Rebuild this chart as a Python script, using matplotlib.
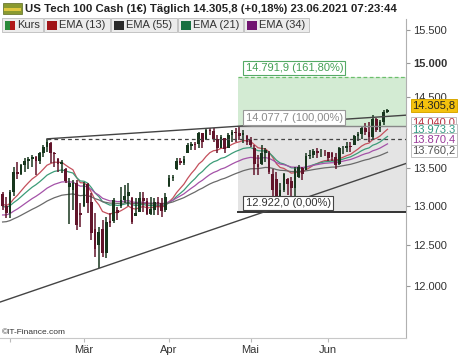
import numpy as np
import pandas as pd
import matplotlib
matplotlib.use("Agg")
import matplotlib.pyplot as plt
from matplotlib.patches import Rectangle

plt.rcParams['font.family'] = ['Liberation Sans', 'DejaVu Sans']

# ---------------- data ----------------
dates = pd.bdate_range('2021-01-28', '2021-06-23')
opens = [13150, 13000, 12900, 13180, 13450, 13420, 13540, 13600, 13620, 13650,
         13600, 13700, 13790, 13840, 13700, 13620, 13560, 13480, 13250, 13200,
         13300, 12900, 13000, 13290, 13050, 12700, 12500, 12700, 12400, 12800,
         12800, 12950, 12990, 13080, 13130, 13100, 12870, 12920, 13100, 13060,
         12890, 12950, 13050, 13030, 12950, 13260, 13360, 13480, 13600, 13570,
         13700, 13800, 13830, 13830, 13980, 13900, 14030, 14010, 13900, 13780,
         13910, 13770, 13950, 14000, 13980, 13950, 13940, 13880, 13780, 13550,
         13560, 13700, 13700, 13420, 13350, 13050, 13200, 13350, 13330, 13230,
         13380, 13500, 13470, 13670, 13680, 13730, 13700, 13710, 13720, 13700,
         13650, 13560, 13770, 13780, 13800, 13820, 13940, 13970, 14050, 14000,
         13920, 14180, 14050, 14130, 14280]
highs = [13180, 13110, 13200, 13510, 13580, 13560, 13630, 13650, 13680, 13660,
         13720, 13810, 13900, 13860, 13720, 13630, 13610, 13500, 13360, 13340,
         13340, 13040, 13310, 13300, 13160, 12900, 12720, 12815, 12850, 12900,
         13100, 12985, 13250, 13270, 13300, 13110, 13100, 13180, 13180, 13100,
         13110, 13100, 13110, 13100, 13170, 13400, 13410, 13630, 13630, 13660,
         13840, 13850, 13850, 14000, 13980, 14050, 14050, 14050, 13950, 13950,
         13910, 13980, 14020, 14050, 14078, 14030, 13950, 13920, 13810, 13680,
         13810, 13770, 13730, 13480, 13440, 13300, 13430, 13370, 13380, 13510,
         13540, 13520, 13700, 13740, 13760, 13770, 13760, 13740, 13720, 13720,
         13700, 13790, 13800, 13860, 13860, 13950, 13990, 14070, 14120, 14130,
         14230, 14200, 14170, 14310, 14320]
lows = [12950, 12840, 12840, 13130, 13350, 13400, 13450, 13490, 13520, 13400,
        13550, 13650, 13720, 13570, 13520, 13440, 13430, 13300, 12760, 12950,
        12690, 12725, 12980, 12910, 12560, 12350, 12210, 12350, 12340, 12720,
        12780, 12815, 12970, 13040, 12990, 12770, 12870, 12920, 12920, 12880,
        12880, 12880, 12880, 12860, 12920, 13250, 13320, 13470, 13540, 13540,
        13700, 13740, 13740, 13770, 13770, 13890, 13950, 13860, 13700, 13770,
        13700, 13770, 13860, 13860, 13880, 13840, 13810, 13790, 13400, 13400,
        13540, 13580, 13420, 13050, 13000, 12922, 13180, 13140, 13000, 13050,
        13360, 13340, 13470, 13620, 13640, 13630, 13650, 13660, 13590, 13600,
        13480, 13540, 13690, 13720, 13720, 13810, 13870, 13900, 13950, 13860,
        13900, 13990, 14000, 14100, 14270]
closes = [13000, 12900, 13180, 13450, 13420, 13540, 13600, 13620, 13650, 13600,
          13700, 13790, 13860, 13700, 13690, 13560, 13580, 13320, 13300, 13300,
          12750, 12880, 13290, 13030, 12650, 12450, 12660, 12400, 12790, 12780,
          13070, 12900, 13080, 13130, 13180, 12790, 12900, 13100, 13060, 12890,
          12960, 13050, 13030, 12930, 13120, 13360, 13380, 13600, 13570, 13620,
          13820, 13830, 13820, 13980, 13850, 14030, 14010, 13900, 13780, 13930,
          13760, 13950, 14000, 13980, 13940, 13980, 13850, 13820, 13550, 13520,
          13700, 13740, 13440, 13200, 13050, 13200, 13420, 13280, 13230, 13480,
          13520, 13420, 13670, 13680, 13730, 13700, 13710, 13700, 13630, 13650,
          13540, 13770, 13780, 13800, 13790, 13940, 13970, 14050, 14000, 13920,
          14180, 14020, 14130, 14280, 14305.8]

ema_periods = [13, 21, 34, 55]
ema_seeds = [13020, 12990, 12880, 12790]
ema_last_labels = ["14.040,0", "13.973,3", "13.870,4", "13.760,2"]
ema_last_values = [14040.0, 13973.3, 13870.4, 13760.2]

feb_high = 13900.0
fib_low, fib_100, fib_1618 = 12922.0, 14077.7, 14791.9
last_price = 14305.8
month_names = {2: '', 3: 'Mär', 4: 'Apr', 5: 'Mai', 6: 'Jun'}

# ---------------- figure ----------------
W, H = 474, 355
fig = plt.figure(figsize=(W / 100, H / 100), dpi=100)
fig.patch.set_facecolor('white')

def fx(x):
    return x / W

def fy(y):
    return 1 - y / H

ax_top, ax_bot, ax_right = 19, 338, 406
ax = fig.add_axes([0, fy(ax_bot), fx(ax_right), (ax_bot - ax_top) / H])
ax.set_facecolor('white')
ax.set_yscale('log')

def px_to_price(y):
    return 15500 * np.exp(-(y - 30) / 999.0)

ax.set_ylim(px_to_price(ax_bot), px_to_price(ax_top))
n = len(closes)
idx = np.arange(n)
xl, xr = -0.70, 109.0
ax.set_xlim(xl, xr)

# EMAs
ema_colors = ['#c4505c', '#3c9c78', '#a452a8', '#6a6a6a']
for per, seed, col in zip(ema_periods, ema_seeds, ema_colors):
    a = 2.0 / (per + 1)
    e = [seed]
    for c in closes[1:]:
        e.append(e[-1] + a * (c - e[-1]))
    ax.plot(idx, e, color=col, lw=0.9, zorder=2)

# fib zones
fib_start = 63.6
ax.fill_between([fib_start, xr], fib_low, fib_100, color='#e4e4e4', zorder=0.5, lw=0)
ax.fill_between([fib_start, xr], fib_100, fib_1618, color='#d3ebd3', zorder=0.5, lw=0)
ax.plot([fib_start, xr], [fib_1618] * 2, color='#6cbf6c', lw=0.9, ls=(0, (3, 2)), zorder=4)
ax.plot([fib_start, xr], [fib_100] * 2, color='#888888', lw=1.0, zorder=4)
ax.plot([fib_start, xr], [fib_low] * 2, color='#333333', lw=1.4, zorder=4)

# candles
up_col, dn_col = '#17361d', '#62142a'
o = np.array(opens); c = np.array(closes); h = np.array(highs); l = np.array(lows)
cols = [up_col if cc >= oo else dn_col for oo, cc in zip(o, c)]
ax.vlines(idx, l, h, colors=cols, lw=1.1, zorder=3)
ax.bar(idx, np.maximum(np.abs(c - o), 10), bottom=np.minimum(o, c), width=0.72,
       color=cols, lw=0, zorder=3)

# trend lines
i_feb = 12
i_apr = 64
slope_u = np.log(fib_100 / feb_high) / (i_apr - i_feb)
xs = np.array([i_feb, xr])
ax.plot(xs, feb_high * np.exp(slope_u * (xs - i_feb)), color='#444444', lw=1.0, zorder=4)
ax.plot([i_feb, xr], [feb_high, feb_high], color='#444444', lw=0.9, ls=(0, (3, 2.5)), zorder=4)
i_mar, low_mar = 26, 12210
i_may, low_may = 78, 13040
slope_l = np.log(low_may / low_mar) / (i_may - i_mar)
xs = np.array([xl, xr])
ax.plot(xs, low_mar * np.exp(slope_l * (xs - i_mar)), color='#444444', lw=1.0, zorder=4)

# fib labels
def fib_label(level, text, tc, ec):
    ax.annotate(text, xy=(fib_start, level), xytext=(5.5, 2.6), textcoords='offset points',
                ha='left', va='bottom', fontsize=8, color=tc, zorder=6,
                bbox=dict(boxstyle='square,pad=0.2', fc='white', ec=ec, lw=0.8))

fib_label(fib_1618, '14.791,9 (161,80%)', '#44a055', '#55aa66')
fib_label(fib_100, '14.077,7 (100,00%)', '#8a8a8a', '#999999')
fib_label(fib_low, '12.922,0 (0,00%)', '#333333', '#444444')

# axes styling
for s in ['top', 'left']:
    ax.spines[s].set_visible(False)
ax.spines['right'].set_color('#b0b0b0')
ax.spines['bottom'].set_color('#c8c8c8')
ax.yaxis.tick_right()
ax.yaxis.set_minor_locator(matplotlib.ticker.NullLocator())
yt = [12000, 12500, 13000, 13500, 14500, 15000, 15500]
ax.set_yticks(yt)
ax.set_yticklabels([f'{v:,}'.replace(',', '.') for v in yt])
for lab in ax.get_yticklabels():
    if lab.get_text() == '15.000':
        lab.set_fontweight('bold')
ax.tick_params(axis='y', direction='out', length=3, width=0.8, color='#999999',
               labelsize=8, labelcolor='#333333', pad=2)
mt, ml = [], []
for i, d in enumerate(dates):
    if i == 0 or dates[i - 1].month != d.month:
        if d.month in month_names:
            mt.append(i); ml.append(month_names[d.month])
ax.set_xticks(mt)
ax.set_xticklabels(ml)
ax.tick_params(axis='x', direction='out', length=3, width=0.8, color='#bbbbbb',
               labelsize=8, labelcolor='#333333', pad=2)

# right labels
ytr = ax.get_yaxis_transform()
def right_label(val, text, tc, fc, ec, dy):
    ax.annotate(text, xy=(1, val), xycoords=ytr, xytext=(4.5, dy), textcoords='offset points',
                ha='left', va='center', fontsize=8, color=tc, annotation_clip=False, zorder=7,
                bbox=dict(boxstyle='square,pad=0.12', fc=fc, ec=ec, lw=0.7))

lab_cols = ['#b83040', '#2e9a80', '#9a3a9a', '#555555']
lab_dy = [4.3, 2.7, 1.1, -1.4]
for v, t, col, dy in zip(ema_last_values, ema_last_labels, lab_cols, lab_dy):
    right_label(v, t, col, 'white', '#c0c0c0', dy)
right_label(last_price, '14.305,8', '#222222', '#f4c20d', '#d9a800', 3.2)

# header
fig.text(fx(25), fy(9), 'US Tech 100 Cash (1€) Täglich 14.305,8 (+0,18%) 23.06.2021 07:23:44',
         fontsize=8.2, fontweight='bold', color='#222222', ha='left', va='center')
# icon
fig.add_artist(Rectangle((fx(3), fy(14)), fx(19), 11 / H, transform=fig.transFigure,
                         fc='#8a9a30', ec='#5a6a20', lw=0.5))
fig.add_artist(Rectangle((fx(4), fy(11)), fx(17), 3 / H, transform=fig.transFigure,
                         fc='#e0c840', ec='none'))

# legend row
leg_items = [('Kurs', None), ('EMA (13)', '#a01418'), ('EMA (55)', '#2a2a2a'),
             ('EMA (21)', '#187040'), ('EMA (34)', '#701470')]
leg_x = [2, 44, 111, 178, 244]
leg_w = [41, 66, 66, 65, 65]
for (name, col), x0, w in zip(leg_items, leg_x, leg_w):
    fig.add_artist(Rectangle((fx(x0), fy(32)), fx(w), 14 / H, transform=fig.transFigure,
                             fc='#ececec', ec='#c4c4c4', lw=0.7))
    if col is None:
        fig.add_artist(Rectangle((fx(x0 + 2.5), fy(29.5)), fx(5), 9 / H, transform=fig.transFigure,
                                 fc='#2a8a3a', ec='none'))
        fig.add_artist(Rectangle((fx(x0 + 7.5), fy(29.5)), fx(5), 9 / H, transform=fig.transFigure,
                                 fc='#b01818', ec='none'))
    else:
        fig.add_artist(Rectangle((fx(x0 + 3), fy(29.5)), fx(10), 9 / H, transform=fig.transFigure,
                                 fc=col, ec='none'))
    fig.text(fx(x0 + 15), fy(25), name, fontsize=8, color='#333333', ha='left', va='center')

fig.text(fx(2), fy(333), '©IT-Finance.com', fontsize=6, color='#333333', ha='left', va='center')

fig.savefig('out.png', dpi=100)
